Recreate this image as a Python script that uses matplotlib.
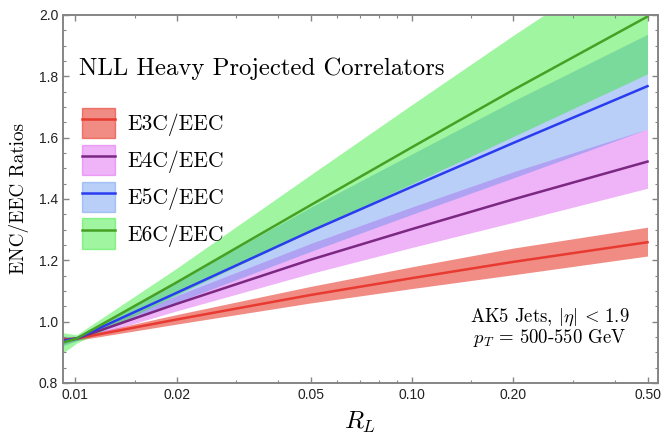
import matplotlib
matplotlib.use('Agg')
import matplotlib.pyplot as plt
from matplotlib.patches import Patch
from matplotlib.lines import Line2D
from matplotlib.legend_handler import HandlerTuple
from matplotlib.ticker import FixedLocator, NullFormatter

plt.rcParams['mathtext.fontset'] = 'cm'

# R_L sample points and ratio curves
RL = [0.0092, 0.0101, 0.02, 0.05, 0.1, 0.2, 0.5]

e3c_mid = [0.941, 0.945, 1.007, 1.087, 1.142, 1.195, 1.259]
e3c_lo = [0.933, 0.939, 0.992, 1.061, 1.108, 1.153, 1.214]
e3c_hi = [0.948, 0.951, 1.023, 1.115, 1.179, 1.240, 1.308]

e4c_mid = [0.939, 0.945, 1.058, 1.202, 1.302, 1.399, 1.522]
e4c_lo = [0.926, 0.939, 1.035, 1.157, 1.242, 1.324, 1.435]
e4c_hi = [0.950, 0.951, 1.085, 1.255, 1.374, 1.489, 1.628]

e5c_mid = [0.936, 0.945, 1.094, 1.295, 1.440, 1.583, 1.768]
e5c_lo = [0.921, 0.938, 1.063, 1.229, 1.350, 1.469, 1.628]
e5c_hi = [0.952, 0.952, 1.131, 1.373, 1.547, 1.720, 1.937]

e6c_mid = [0.932, 0.945, 1.128, 1.380, 1.569, 1.756, 1.995]
e6c_lo = [0.898, 0.930, 1.087, 1.295, 1.450, 1.604, 1.808]
e6c_hi = [0.964, 0.957, 1.174, 1.479, 1.708, 1.934, 2.223]

labels = ['E3C/EEC', 'E4C/EEC', 'E5C/EEC', 'E6C/EEC']
band_colors = ['#e42e1f', '#d943ed', '#5089ed', '#2ce92c']
band_alpha = [0.55, 0.4, 0.4, 0.45]
line_colors = ['#e83a30', '#7a2882', '#2a3cf0', '#46a024']

x_major = [0.01, 0.02, 0.05, 0.1, 0.2, 0.5]
x_major_labels = ['0.01', '0.02', '0.05', '0.10', '0.20', '0.50']
x_minor = [0.015, 0.03, 0.04, 0.06, 0.07, 0.08, 0.09, 0.15, 0.3, 0.4]

mids = [e3c_mid, e4c_mid, e5c_mid, e6c_mid]
los = [e3c_lo, e4c_lo, e5c_lo, e6c_lo]
his = [e3c_hi, e4c_hi, e5c_hi, e6c_hi]

fig = plt.figure(figsize=(6.64, 4.36), dpi=100)
ax = fig.add_axes([0.0949, 0.1216, 0.896, 0.844])

for lo, hi, c, a in zip(los, his, band_colors, band_alpha):
    ax.fill_between(RL, lo, hi, color=c, alpha=a, linewidth=0)
for mid, c in zip(mids, line_colors):
    ax.plot(RL, mid, color=c, lw=1.8)

ax.set_xscale('log')
ax.set_xlim(0.0092, 0.537)
ax.set_ylim(0.8, 2.0)

ax.xaxis.set_major_locator(FixedLocator(x_major))
ax.set_xticklabels(x_major_labels)
ax.xaxis.set_minor_locator(FixedLocator(x_minor))
ax.xaxis.set_minor_formatter(NullFormatter())
ax.set_yticks([0.8, 1.0, 1.2, 1.4, 1.6, 1.8, 2.0])
ax.set_yticks([0.8 + 0.05 * i for i in range(25)], minor=True)

spine_col = '#858585'
for s in ax.spines.values():
    s.set_color(spine_col)
    s.set_linewidth(1.4)
ax.tick_params(which='both', direction='in', top=True, right=True, color=spine_col,
               labelcolor='#222222', labelsize=10, labelfontfamily='Liberation Sans')
ax.tick_params(which='major', length=4, width=1)
ax.tick_params(which='minor', length=2.5, width=0.8)

ax.set_xlabel(r'$R_L$', fontsize=18, labelpad=6)
ax.set_ylabel('ENC/EEC Ratios', fontsize=13.8, family='cmr10', labelpad=7)

ax.text(0.027, 0.853, 'NLL Heavy Projected Correlators', transform=ax.transAxes,
        fontsize=17.8, family='cmr10', va='center', ha='left')

handles = []
for c, a, lc in zip(band_colors, band_alpha, line_colors):
    p = Patch(facecolor=c, alpha=a, edgecolor=c, linewidth=1)
    l = Line2D([], [], color=lc, lw=1.8)
    handles.append((p, l))
ax.legend(handles, labels, handler_map={tuple: HandlerTuple(ndivide=1, pad=0)},
          loc='upper left', bbox_to_anchor=(0.032, 0.748), frameon=False,
          prop={'family': 'cmr10', 'size': 15.5}, borderpad=0, borderaxespad=0,
          handlelength=1.55, handleheight=1.8, labelspacing=0.3, handletextpad=0.55)

ax.text(0.818, 0.178, r'AK5 Jets, $|\eta|\,<\,1.9$', transform=ax.transAxes,
        fontsize=13.5, family='cmr10', ha='center', va='center')
ax.text(0.818, 0.123, r'$p_T$ = 500-550 GeV', transform=ax.transAxes,
        fontsize=13.5, family='cmr10', ha='center', va='center')

fig.savefig('out.png', dpi=100)
